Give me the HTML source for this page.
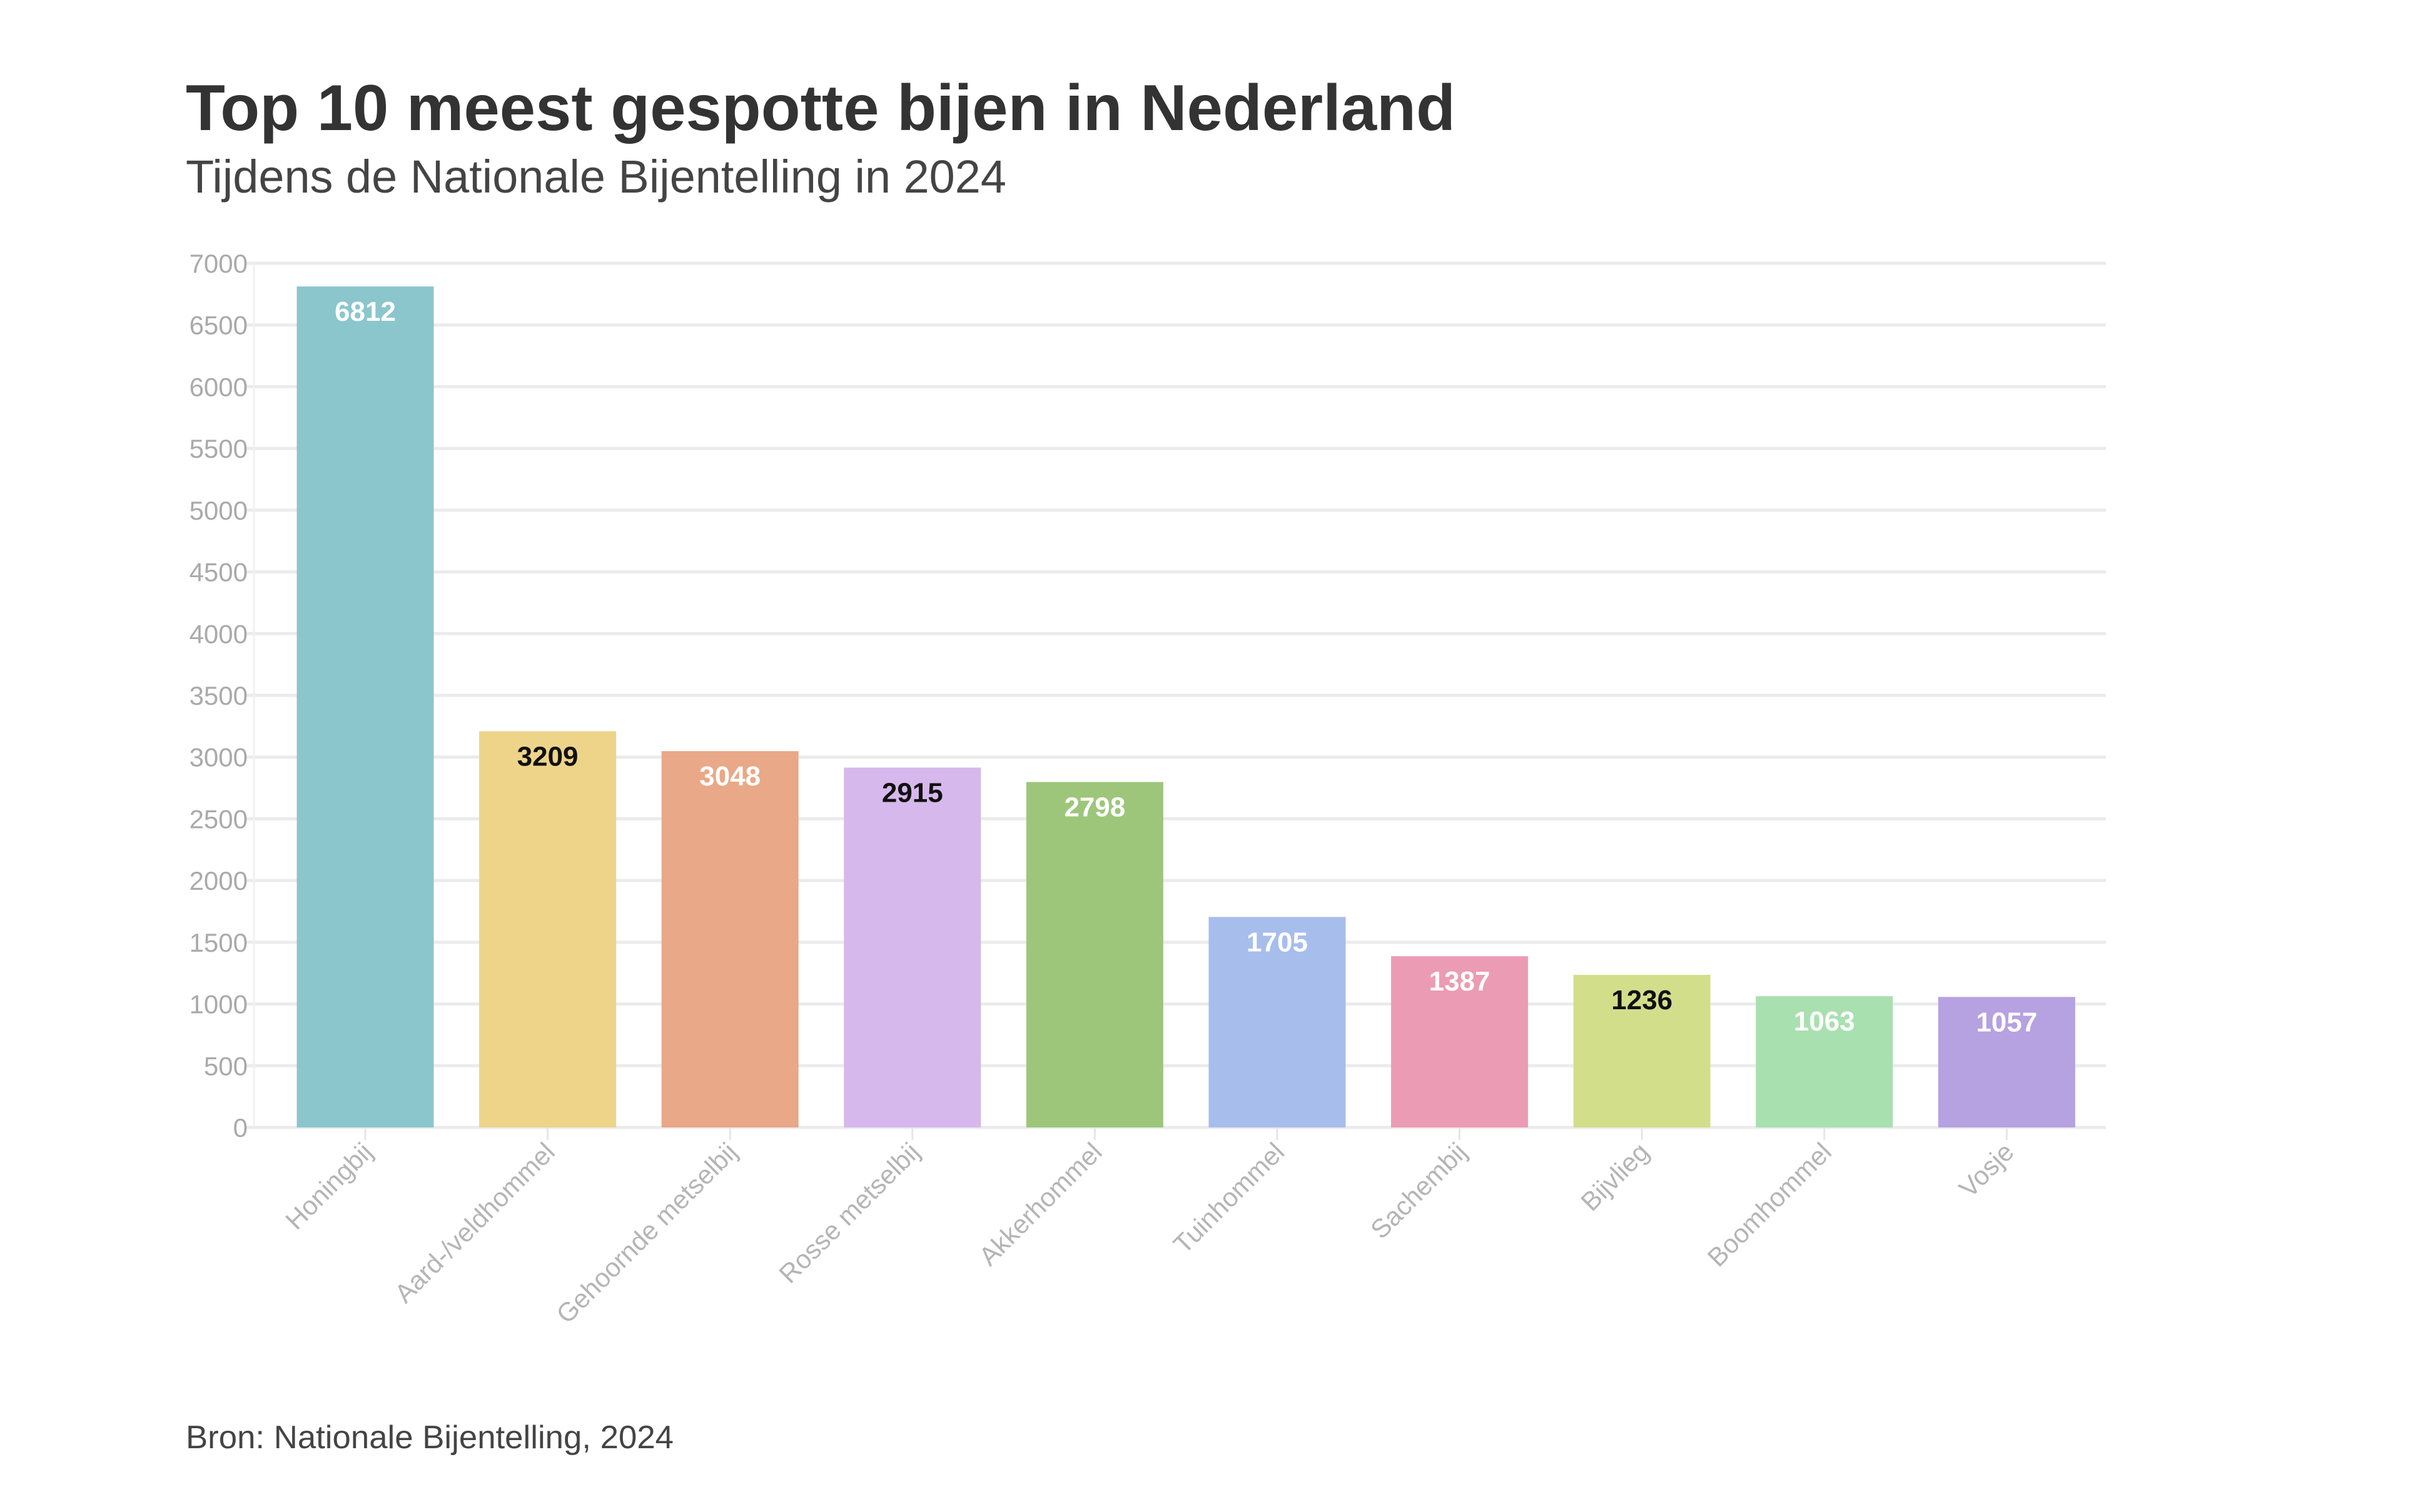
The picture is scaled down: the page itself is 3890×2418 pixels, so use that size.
<!DOCTYPE html>
<html><head><meta charset="utf-8">
<style>
html,body{margin:0;padding:0;background:#fff;}
svg{display:block;font-family:"Liberation Sans",sans-serif;}
</style></head>
<body>
<svg id="chart" width="3890" height="2418" viewBox="0 0 3890 2418" xmlns="http://www.w3.org/2000/svg">
<rect width="3890" height="2418" fill="#fff"/>
<text x="297" y="208" font-size="104" font-weight="bold" fill="#333" textLength="2030" lengthAdjust="spacingAndGlyphs">Top 10 meest gespotte bijen in Nederland</text>
<text x="297" y="308" font-size="74" fill="#444" textLength="1312" lengthAdjust="spacingAndGlyphs">Tijdens de Nationale Bijentelling in 2024</text>
<g id="grid"></g>
<g id="yaxis"></g>
<g id="bars"></g>
<g id="xaxis"></g>
<text x="297" y="2316" font-size="52" fill="#444" textLength="780" lengthAdjust="spacingAndGlyphs">Bron: Nationale Bijentelling, 2024</text>
</svg>
<script>
const categories = ["Honingbij","Aard-/veldhommel","Gehoornde metselbij","Rosse metselbij","Akkerhommel","Tuinhommel","Sachembij","Bijvlieg","Boomhommel","Vosje"];
const values = [6812,3209,3048,2915,2798,1705,1387,1236,1063,1057];
const colors = ["#8bc6cc","#edd489","#e9a887","#d6b8ec","#9dc67b","#a7bdec","#ec9bb5","#d3de8b","#a9e0b0","#b6a1e1"];
const labelColors = ["#fff","#111","#fff","#111","#fff","#fff","#fff","#111","#fff","#fff"];
const yTicks = [0,500,1000,1500,2000,2500,3000,3500,4000,4500,5000,5500,6000,6500,7000];

const NS = "http://www.w3.org/2000/svg";
const plotLeft = 406, plotRight = 3367, y0 = 1803, yTop = 421, yMax = 7000;
const firstCenter = 584, step = 291.6, barW = 219;
function yScale(v){ return y0 - (v / yMax) * (y0 - yTop); }
function xScale(i){ return firstCenter + i * step; }
function mk(tag, attrs, parent){ const e = document.createElementNS(NS, tag); for (const k in attrs) e.setAttribute(k, attrs[k]); parent.appendChild(e); return e; }

const grid = document.getElementById('grid');
const yaxis = document.getElementById('yaxis');
yTicks.forEach(t => {
  const y = yScale(t);
  const l = mk('line', {x1: plotLeft - 12, x2: plotRight, y1: y, y2: y, stroke: '#ebebeb', 'stroke-width': 5}, grid);
  
  
  const tx = mk('text', {x: 396, y: y + 15, 'font-size': 42, fill: '#aaa', 'text-anchor': 'end'}, yaxis);
  tx.textContent = t;
  
  
});
const axl = mk('line', {x1: plotLeft, x2: plotLeft, y1: yTop, y2: y0, stroke: '#f0f0f0', 'stroke-width': 3}, grid);



const bars = document.getElementById('bars');
const xaxis = document.getElementById('xaxis');
values.forEach((v, i) => {
  const cx = xScale(i);
  const yt = yScale(v);
  const r = mk('rect', {x: cx - barW / 2, y: yt, width: barW, height: y0 - yt, fill: colors[i]}, bars);
  
  
  const lb = mk('text', {x: cx, y: yt + 55, 'font-size': 44, 'font-weight': 'bold', fill: labelColors[i], 'text-anchor': 'middle'}, bars);
  lb.textContent = v;
  
  
  const tk = mk('line', {x1: cx, x2: cx, y1: y0, y2: y0 + 20, stroke: '#e6e6e6', 'stroke-width': 3}, xaxis);
  
  
  const xl = mk('text', {x: cx + 14, y: y0 + 42, 'font-size': 42, fill: '#b5b5b5', 'text-anchor': 'end', transform: 'rotate(-45 ' + (cx + 14) + ' ' + (y0 + 42) + ')'}, xaxis);
  xl.textContent = categories[i];
  
  
});
</script>
</body></html>
